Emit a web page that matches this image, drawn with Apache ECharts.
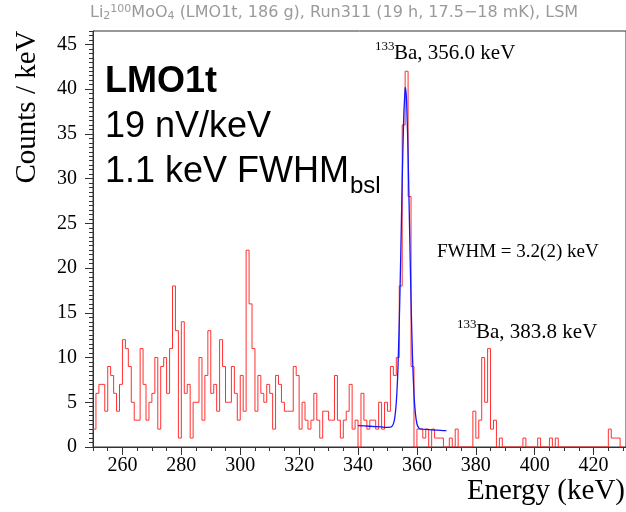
<!DOCTYPE html>
<html>
<head>
<meta charset="utf-8">
<script src="https://cdn.jsdelivr.net/npm/echarts@6/dist/echarts.min.js"></script>
<style>
html, body { margin: 0; padding: 0; background: #fff; }
#main { width: 626px; height: 512px; }
</style>
</head>
<body>
<div id="main"></div>
<script>
// histogram: counts in 1 keV bins, first bin starts at 250 keV
var binStart = 250;
var binWidth = 1;
var counts = [
    2, 6, 7, 7, 4, 9, 8, 6, 4, 7,        // 250
    12, 11, 9, 5, 3, 3, 11, 7, 3, 5,     // 260
    6, 10, 2, 9, 10, 6, 11, 18, 13, 1,   // 270
    14, 6, 7, 1, 5, 5, 10, 3, 8, 13,     // 280
    6, 7, 4, 12, 9, 5, 5, 9, 6, 3,       // 290
    8, 4, 22, 16, 11, 4, 8, 6, 5, 7,     // 300
    6, 2, 8, 7, 5, 4, 4, 4, 9, 8,        // 310
    2, 5, 3, 2, 3, 6, 3, 1, 4, 4,        // 320
    3, 3, 8, 3, 1, 3, 4, 7, 2, 3,        // 330
    0, 6, 3, 2, 3, 3, 2, 5, 2, 5,        // 340
    4, 9, 8, 10, 18, 36, 42, 28, 9, 0,   // 350
    2, 2, 1, 2, 0, 2, 1, 1, 1, 0,        // 360
    0, 1, 0, 2, 0, 0, 0, 0, 0, 4,        // 370
    1, 3, 10, 5, 11, 2, 3, 0, 1, 0,      // 380
    0, 0, 0, 0, 0, 0, 1, 0, 0, 0,        // 390
    0, 1, 0, 0, 0, 1, 0, 1, 0, 0,        // 400
    0, 0, 0, 0, 0, 0, 0, 0, 0, 0,        // 410
    0, 0, 0, 0, 0, 2, 1, 1, 1, 0         // 420
];

// blue fit line
var fitEnergy = [340, 344, 348, 350, 351, 351.5, 352, 352.5, 353, 353.5, 354, 354.5, 355, 355.5,
    356, 356.1, 356.5, 357, 357.5, 358, 358.5, 359, 359.5, 360, 360.5, 361, 362, 364, 366, 368, 370];
var fitCounts = [2.4, 2.32, 2.24, 2.2, 2.21, 2.31, 2.58, 3.32, 5.0, 8.3, 13.8, 21.3, 29.7, 36.7,
    40.1, 40.2, 38.6, 32.7, 24.5, 16.4, 10.0, 5.9, 3.7, 2.6, 2.19, 2.04, 2.0, 1.95, 1.9, 1.86, 1.82];

var xTicks = [260, 280, 300, 320, 340, 360, 380, 400, 420];
var yTicks = [0, 5, 10, 15, 20, 25, 30, 35, 40, 45];

var xMin = 250, xMax = 431;
var yMin = 0, yMax = 46.5;

var serif = "'Liberation Serif', 'Times New Roman', serif";
var sans = "'Liberation Sans', Arial, sans-serif";

function histPoints() {
    var pts = [];
    for (var i = 0; i < counts.length; i++) {
        pts.push([binStart + i * binWidth, counts[i]]);
    }
    // close the last bin
    pts.push([binStart + counts.length * binWidth, counts[counts.length - 1]]);
    return pts;
}

function fitPoints() {
    var pts = [];
    for (var i = 0; i < fitEnergy.length; i++) {
        pts.push([fitEnergy[i], fitCounts[i]]);
    }
    return pts;
}

function label(x, y, text, font, extra) {
    var style = {
        text: text,
        font: font,
        fill: '#000',
        align: 'left',
        verticalAlign: 'middle',
        textAlign: 'left',
        textVerticalAlign: 'middle'
    };
    for (var k in extra) style[k] = extra[k];
    return { type: 'text', x: x, y: y, style: style, silent: true };
}

var axisColor = '#333';

var option = {
    animation: false,
    backgroundColor: '#fff',
    grid: {
        left: 93,
        top: 31,
        width: 534,
        height: 416,
        show: true,
        borderColor: axisColor,
        borderWidth: 1
    },
    xAxis: [{
        type: 'value',
        min: xMin,
        max: xMax,
        position: 'bottom',
        axisLine: { show: true, lineStyle: { color: axisColor } },
        axisTick: { show: true, customValues: xTicks, length: 8, lineStyle: { color: axisColor } },
        axisLabel: { customValues: xTicks, fontFamily: serif, fontSize: 20, color: '#000', margin: 9 },
        splitLine: { show: false }
    }, {
        // minor ticks every 5 keV
        type: 'value',
        min: xMin,
        max: xMax,
        interval: 5,
        position: 'bottom',
        axisLine: { show: false },
        axisTick: { show: true, length: 4, lineStyle: { color: axisColor } },
        axisLabel: { show: false },
        splitLine: { show: false }
    }],
    yAxis: [{
        type: 'value',
        min: yMin,
        max: yMax,
        position: 'left',
        axisLine: { show: true, lineStyle: { color: axisColor } },
        axisTick: { show: true, customValues: yTicks, length: 8, lineStyle: { color: axisColor } },
        axisLabel: { customValues: yTicks, fontFamily: serif, fontSize: 20, color: '#000', margin: 16 },
        splitLine: { show: false }
    }, {
        // minor ticks every 0.5
        type: 'value',
        min: yMin,
        max: yMax,
        interval: 0.5,
        position: 'left',
        axisLine: { show: false },
        axisTick: { show: true, length: 4, lineStyle: { color: axisColor } },
        axisLabel: { show: false },
        splitLine: { show: false }
    }],
    series: [{
        name: 'data',
        type: 'line',
        step: 'end',
        symbol: 'none',
        data: histPoints(),
        lineStyle: { color: '#ff3030', width: 1 },
        z: 2
    }, {
        name: 'fit',
        type: 'line',
        symbol: 'none',
        smooth: 0.2,
        data: fitPoints(),
        lineStyle: { color: '#1515ff', width: 1.3 },
        z: 3
    }],
    graphic: [
        // run info on top
        {
            type: 'text', x: 90, y: 4, silent: true,
            style: {
                text: 'Li{sub|2}{sup|100}MoO{sub|4} (LMO1t, 186 g), Run311 (19 h, 17.5\u221218 mK), LSM',
                font: "16px 'DejaVu Sans', sans-serif",
                fill: '#9a9a9a',
                rich: {
                    sub: { fontSize: 11, lineHeight: 4, verticalAlign: 'bottom', fill: '#9a9a9a', fontFamily: 'DejaVu Sans' },
                    sup: { fontSize: 11, lineHeight: 4, verticalAlign: 'top', fill: '#9a9a9a', fontFamily: 'DejaVu Sans' }
                },
                lineHeight: 18
            }
        },
        label(105, 82, 'LMO1t', "bold 36px " + sans),
        label(105, 127, '19 nV/keV', "36px " + sans),
        label(105, 172, '1.1 keV FWHM', "36px " + sans),
        label(350, 186, 'bsl', "24px " + sans),

        label(375, 47, '133', "13px " + serif),
        label(394, 53, 'Ba, 356.0 keV', "21px " + serif),
        label(437, 252, 'FWHM = 3.2(2) keV', "19px " + serif),
        label(457, 325, '133', "13px " + serif),
        label(476, 332, 'Ba, 383.8 keV', "21px " + serif),

        label(625, 491, 'Energy (keV)', "29px " + serif, { align: 'right', textAlign: 'right' }),
        {
            type: 'text', x: 27, y: 107, rotation: Math.PI / 2, silent: true,
            style: {
                text: 'Counts / keV', font: "29px " + serif, fill: '#000',
                align: 'center', verticalAlign: 'middle', textAlign: 'center', textVerticalAlign: 'middle'
            }
        }
    ]
};

var chart = echarts.init(document.getElementById('main'));
chart.setOption(option);
</script>
</body>
</html>
